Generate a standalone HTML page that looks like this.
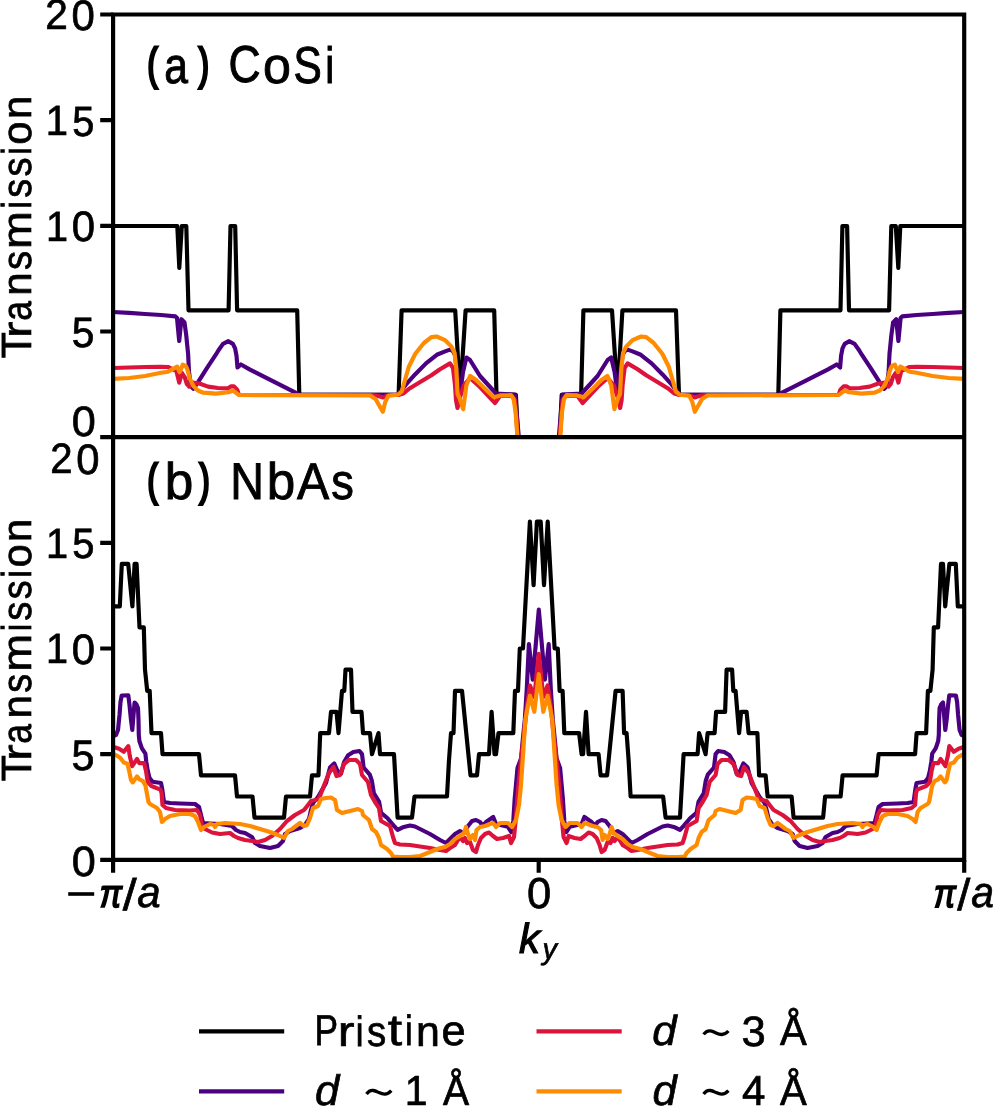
<!DOCTYPE html>
<html><head><meta charset="utf-8"><title>Transmission vs ky</title>
<style>html,body{margin:0;padding:0;background:#fff;width:1000px;height:1116px;overflow:hidden}svg{display:block;font-family:"Liberation Sans",sans-serif;will-change:transform}</style>
</head><body>
<svg width="1000" height="1116" viewBox="0 0 1000 1116">
<defs>
<clipPath id="ct"><rect x="113.1" y="14.5" width="851.1" height="422.6"/></clipPath>
<clipPath id="cb"><rect x="113.1" y="437.1" width="851.1" height="422.8"/></clipPath>
</defs>
<rect width="1000" height="1116" fill="#fff"/>
<g fill="none" stroke-width="4.17" stroke-linejoin="round" stroke-linecap="butt">
<path d="M113.1,226.0 L177.3,226.0 L179.3,267.8 L181.8,226.0 L186.3,226.0 L188.5,310.3 L228.6,310.3 L230.5,226.0 L235.2,226.0 L237.1,310.3 L297.2,310.3 L299.3,394.8 L398.6,394.8 L401.6,310.3 L455.2,310.3 L460.1,394.8 L465.6,310.3 L494.2,310.3 L496.5,394.8 L515.9,394.8 L517.9,437.1 L538.8,437.1 L559.7,437.1 L561.7,394.8 L581.1,394.8 L583.4,310.3 L612.0,310.3 L617.5,394.8 L622.4,310.3 L676.0,310.3 L679.0,394.8 L778.3,394.8 L780.4,310.3 L840.5,310.3 L842.4,226.0 L847.1,226.0 L849.0,310.3 L889.1,310.3 L891.3,226.0 L895.8,226.0 L898.3,267.8 L900.3,226.0 L964.5,226.0" stroke="#000000" clip-path="url(#ct)"/>
<path d="M113.1,312.0 L129.0,312.8 L145.0,314.0 L161.0,315.0 L175.4,316.4 L177.0,318.0 L179.2,341.0 L181.4,319.2 L184.5,322.5 L186.3,335.8 L187.2,345.0 L188.1,353.8 L189.0,371.7 L190.8,386.0 L193.4,388.7 L197.9,382.4 L206.9,368.1 L215.8,354.7 L218.5,350.2 L223.0,343.9 L228.4,341.2 L232.9,343.9 L235.1,348.4 L236.5,355.6 L237.5,367.5 L240.9,364.5 L250.0,369.6 L296.0,392.8 L299.0,394.8 L398.0,394.8 L405.6,384.9 L415.3,374.2 L426.0,363.4 L436.8,354.8 L445.1,351.4 L450.0,349.6 L453.0,351.0 L455.0,355.0 L457.5,375.0 L460.0,395.0 L463.0,372.0 L466.4,357.5 L470.0,360.0 L480.0,376.0 L496.0,393.5 L515.0,394.5 L518.8,437.1 L538.8,437.1 L558.8,437.1 L562.6,394.5 L581.6,393.5 L597.6,376.0 L607.6,360.0 L611.2,357.5 L614.6,372.0 L617.6,395.0 L620.1,375.0 L622.6,355.0 L624.6,351.0 L627.6,349.6 L632.5,351.4 L640.8,354.8 L651.6,363.4 L662.3,374.2 L672.0,384.9 L679.6,394.8 L778.6,394.8 L781.6,392.8 L827.6,369.6 L836.7,364.5 L840.1,367.5 L841.1,355.6 L842.5,348.4 L844.7,343.9 L849.2,341.2 L854.6,343.9 L859.1,350.2 L861.8,354.7 L870.7,368.1 L879.7,382.4 L884.2,388.7 L886.8,386.0 L888.6,371.7 L889.5,353.8 L890.4,345.0 L891.3,335.8 L893.1,322.5 L896.2,319.2 L898.4,341.0 L900.6,318.0 L902.2,316.4 L916.6,315.0 L932.6,314.0 L948.6,312.8 L964.5,312.0" stroke="#4b0082" clip-path="url(#ct)"/>
<path d="M113.1,368.0 L145.0,367.0 L161.0,366.8 L168.0,367.0 L174.0,369.8 L176.4,371.0 L179.2,382.6 L182.0,373.0 L184.8,377.4 L186.8,383.8 L189.2,386.6 L192.8,382.6 L200.0,383.8 L208.0,386.6 L218.0,388.0 L227.6,388.4 L230.8,386.4 L234.0,386.4 L237.2,389.6 L238.8,394.4 L240.5,395.0 L372.0,395.0 L377.0,395.8 L380.0,396.5 L383.0,397.5 L386.0,396.0 L390.0,395.0 L398.0,395.0 L403.4,393.5 L409.9,388.2 L420.6,381.7 L431.4,375.3 L440.0,369.3 L450.0,363.4 L453.0,368.0 L455.0,385.0 L456.0,400.0 L457.5,408.0 L460.0,397.0 L464.0,385.0 L470.0,378.0 L480.0,387.0 L495.0,403.0 L500.0,396.0 L512.0,396.0 L515.0,400.0 L517.8,437.1 L538.8,437.1 L559.8,437.1 L562.6,400.0 L565.6,396.0 L577.6,396.0 L582.6,403.0 L597.6,387.0 L607.6,378.0 L613.6,385.0 L617.6,397.0 L620.1,408.0 L621.6,400.0 L622.6,385.0 L624.6,368.0 L627.6,363.4 L637.6,369.3 L646.2,375.3 L657.0,381.7 L667.7,388.2 L674.2,393.5 L679.6,395.0 L687.6,395.0 L691.6,396.0 L694.6,397.5 L697.6,396.5 L700.6,395.8 L705.6,395.0 L837.1,395.0 L838.8,394.4 L840.4,389.6 L843.6,386.4 L846.8,386.4 L850.0,388.4 L859.6,388.0 L869.6,386.6 L877.6,383.8 L884.8,382.6 L888.4,386.6 L890.8,383.8 L892.8,377.4 L895.6,373.0 L898.4,382.6 L901.2,371.0 L903.6,369.8 L909.6,367.0 L916.6,366.8 L932.6,367.0 L964.5,368.0" stroke="#dc143c" clip-path="url(#ct)"/>
<path d="M113.1,378.8 L129.0,378.0 L145.0,376.0 L161.0,372.8 L168.0,371.8 L172.0,369.4 L177.2,366.6 L179.6,372.2 L182.8,364.6 L185.6,365.8 L187.2,369.0 L189.9,378.9 L193.4,386.0 L197.9,390.5 L203.3,392.7 L215.8,393.6 L228.4,392.3 L232.9,390.5 L236.5,393.2 L239.1,395.0 L370.0,395.5 L375.5,398.9 L379.8,406.5 L382.8,411.8 L385.2,402.2 L388.4,395.7 L398.0,394.6 L401.8,391.4 L404.5,381.7 L408.8,366.7 L415.3,353.8 L423.9,343.0 L431.4,337.1 L436.5,336.5 L445.1,340.2 L451.3,346.4 L454.5,352.7 L456.3,369.0 L457.6,394.1 L459.5,398.0 L463.2,409.2 L466.4,385.3 L470.2,375.9 L476.4,380.3 L484.0,387.8 L494.0,397.2 L500.3,395.4 L511.0,395.2 L513.6,399.2 L515.6,412.0 L517.4,437.1 L538.8,437.1 L560.2,437.1 L562.0,412.0 L564.0,399.2 L566.6,395.2 L577.3,395.4 L583.6,397.2 L593.6,387.8 L601.2,380.3 L607.4,375.9 L611.2,385.3 L614.4,409.2 L618.1,398.0 L620.0,394.1 L621.3,369.0 L623.1,352.7 L626.3,346.4 L632.5,340.2 L641.1,336.5 L646.2,337.1 L653.7,343.0 L662.3,353.8 L668.8,366.7 L673.1,381.7 L675.8,391.4 L679.6,394.6 L689.2,395.7 L692.4,402.2 L694.8,411.8 L697.8,406.5 L702.1,398.9 L707.6,395.5 L838.5,395.0 L841.1,393.2 L844.7,390.5 L849.2,392.3 L861.8,393.6 L874.3,392.7 L879.7,390.5 L884.2,386.0 L887.7,378.9 L890.4,369.0 L892.0,365.8 L894.8,364.6 L898.0,372.2 L900.4,366.6 L905.6,369.4 L909.6,371.8 L916.6,372.8 L932.6,376.0 L948.6,378.0 L964.5,378.8" stroke="#ff8c00" clip-path="url(#ct)"/>
<path d="M113.1,606.3 L119.8,606.3 L121.8,563.9 L128.2,563.9 L132.4,606.3 L134.6,563.9 L136.6,563.9 L139.5,627.4 L143.8,627.4 L145.0,669.6 L147.2,690.8 L149.7,690.8 L151.5,733.1 L161.0,733.1 L162.5,754.2 L199.0,754.2 L201.0,775.3 L235.0,775.3 L237.0,796.5 L252.5,796.5 L254.5,817.6 L284.0,817.6 L286.0,796.5 L310.0,796.5 L312.0,775.3 L318.5,775.3 L320.2,733.1 L329.0,733.1 L331.0,711.9 L336.5,711.9 L338.5,733.1 L342.0,690.8 L344.3,690.8 L345.5,669.6 L351.0,669.6 L352.5,711.9 L361.5,711.9 L363.0,733.1 L370.0,733.1 L372.0,754.2 L378.5,733.1 L380.0,754.2 L394.0,754.2 L397.6,817.6 L412.0,817.6 L414.5,796.5 L447.0,796.5 L449.0,760.0 L451.0,733.1 L453.5,733.1 L455.0,690.8 L462.0,690.8 L470.5,775.3 L477.0,775.3 L479.0,754.2 L489.0,754.2 L491.6,711.9 L494.5,754.2 L496.0,754.2 L498.5,733.1 L513.3,733.1 L515.0,690.8 L518.0,690.8 L519.8,648.5 L523.0,648.5 L529.9,521.7 L533.6,585.1 L536.9,521.7 L538.8,521.7 L540.7,521.7 L544.0,585.1 L547.7,521.7 L554.6,648.5 L557.8,648.5 L559.6,690.8 L562.6,690.8 L564.3,733.1 L579.1,733.1 L581.6,754.2 L583.1,754.2 L586.0,711.9 L588.6,754.2 L598.6,754.2 L600.6,775.3 L607.1,775.3 L615.6,690.8 L622.6,690.8 L624.1,733.1 L626.6,733.1 L628.6,760.0 L630.6,796.5 L663.1,796.5 L665.6,817.6 L680.0,817.6 L683.6,754.2 L697.6,754.2 L699.1,733.1 L705.6,754.2 L707.6,733.1 L714.6,733.1 L716.1,711.9 L725.1,711.9 L726.6,669.6 L732.1,669.6 L733.3,690.8 L735.6,690.8 L739.1,733.1 L741.1,711.9 L746.6,711.9 L748.6,733.1 L757.4,733.1 L759.1,775.3 L765.6,775.3 L767.6,796.5 L791.6,796.5 L793.6,817.6 L823.1,817.6 L825.1,796.5 L840.6,796.5 L842.6,775.3 L876.6,775.3 L878.6,754.2 L915.1,754.2 L916.6,733.1 L926.1,733.1 L927.9,690.8 L930.4,690.8 L932.6,669.6 L933.8,627.4 L938.1,627.4 L941.0,563.9 L943.0,563.9 L945.2,606.3 L949.4,563.9 L955.8,563.9 L957.8,606.3 L964.5,606.3" stroke="#000000" clip-path="url(#cb)"/>
<path d="M113.1,736.5 L116.0,735.0 L118.0,730.0 L119.5,715.0 L120.5,702.0 L121.7,695.5 L128.3,695.3 L129.5,705.0 L131.0,720.0 L132.3,730.0 L133.5,715.0 L134.6,702.5 L136.5,704.5 L138.0,708.0 L138.5,720.0 L138.8,735.0 L139.4,741.0 L141.8,748.2 L145.4,753.6 L146.3,762.0 L147.8,771.0 L149.6,778.2 L152.6,781.8 L161.0,783.0 L162.2,789.0 L164.0,802.0 L170.0,803.0 L180.0,803.5 L195.0,804.0 L199.0,807.0 L201.0,815.0 L203.0,823.0 L210.0,823.5 L220.0,824.0 L232.0,826.0 L236.0,830.0 L240.0,832.0 L245.0,833.0 L252.0,837.0 L255.0,843.0 L260.0,846.0 L270.0,848.0 L278.0,846.0 L283.0,841.0 L285.0,834.0 L290.0,831.0 L300.0,828.0 L305.0,825.0 L309.0,819.0 L311.0,810.0 L313.0,803.0 L318.0,797.0 L322.0,790.0 L326.0,783.0 L330.0,767.5 L334.2,763.4 L337.3,770.6 L341.0,773.7 L344.0,762.4 L348.1,755.2 L353.3,752.0 L359.5,751.0 L362.0,754.1 L363.6,767.5 L369.8,774.7 L371.9,781.0 L373.9,793.3 L379.0,801.5 L381.1,812.9 L387.3,818.0 L393.5,825.3 L397.6,829.9 L402.8,827.3 L410.0,825.5 L415.0,826.5 L420.0,829.0 L430.0,834.0 L440.0,840.0 L446.0,843.0 L450.0,839.0 L455.0,834.0 L460.0,831.0 L464.0,833.0 L468.0,826.0 L472.0,821.0 L476.0,820.0 L480.0,822.0 L483.0,826.0 L486.0,822.0 L493.2,817.0 L496.0,824.0 L507.8,826.7 L511.3,832.2 L513.3,821.0 L514.7,799.0 L517.5,768.0 L521.0,758.6 L523.0,737.8 L524.8,720.0 L526.8,689.0 L528.9,644.1 L532.7,679.6 L538.8,609.7 L544.9,679.6 L548.7,644.1 L550.8,689.0 L552.8,720.0 L554.6,737.8 L556.6,758.6 L560.1,768.0 L562.9,799.0 L564.3,821.0 L566.3,832.2 L569.8,826.7 L581.6,824.0 L584.4,817.0 L591.6,822.0 L594.6,826.0 L597.6,822.0 L601.6,820.0 L605.6,821.0 L609.6,826.0 L613.6,833.0 L617.6,831.0 L622.6,834.0 L627.6,839.0 L631.6,843.0 L637.6,840.0 L647.6,834.0 L657.6,829.0 L662.6,826.5 L667.6,825.5 L674.8,827.3 L680.0,829.9 L684.1,825.3 L690.3,818.0 L696.5,812.9 L698.6,801.5 L703.7,793.3 L705.7,781.0 L707.8,774.7 L714.0,767.5 L715.6,754.1 L718.1,751.0 L724.3,752.0 L729.5,755.2 L733.6,762.4 L736.6,773.7 L740.3,770.6 L743.4,763.4 L747.6,767.5 L751.6,783.0 L755.6,790.0 L759.6,797.0 L764.6,803.0 L766.6,810.0 L768.6,819.0 L772.6,825.0 L777.6,828.0 L787.6,831.0 L792.6,834.0 L794.6,841.0 L799.6,846.0 L807.6,848.0 L817.6,846.0 L822.6,843.0 L825.6,837.0 L832.6,833.0 L837.6,832.0 L841.6,830.0 L845.6,826.0 L857.6,824.0 L867.6,823.5 L874.6,823.0 L876.6,815.0 L878.6,807.0 L882.6,804.0 L897.6,803.5 L907.6,803.0 L913.6,802.0 L915.4,789.0 L916.6,783.0 L925.0,781.8 L928.0,778.2 L929.8,771.0 L931.3,762.0 L932.2,753.6 L935.8,748.2 L938.2,741.0 L938.8,735.0 L939.1,720.0 L939.6,708.0 L941.1,704.5 L943.0,702.5 L944.1,715.0 L945.3,730.0 L946.6,720.0 L948.1,705.0 L949.3,695.3 L955.9,695.5 L957.1,702.0 L958.1,715.0 L959.6,730.0 L961.6,735.0 L964.5,736.5" stroke="#4b0082" clip-path="url(#cb)"/>
<path d="M113.1,747.3 L115.4,747.6 L119.0,748.8 L123.8,751.8 L128.3,746.1 L129.8,756.0 L132.2,766.2 L137.0,759.0 L139.4,763.2 L144.2,763.2 L146.0,771.0 L147.8,782.4 L151.4,786.0 L160.4,789.6 L161.6,793.0 L162.5,805.0 L166.0,808.0 L175.0,810.0 L190.0,810.5 L197.0,810.0 L200.0,815.0 L202.0,826.0 L205.0,829.0 L212.0,832.5 L220.0,834.0 L230.0,833.0 L234.0,836.0 L238.0,838.0 L245.0,840.0 L252.0,841.0 L258.0,842.0 L265.0,840.0 L272.0,836.0 L280.0,829.0 L287.0,821.0 L295.0,815.0 L304.0,810.0 L308.0,805.0 L311.0,801.0 L318.0,799.5 L320.0,796.0 L325.0,783.0 L329.0,773.0 L333.5,767.0 L336.5,776.0 L340.0,775.0 L344.0,764.0 L349.0,760.0 L356.0,760.0 L360.0,764.0 L362.0,775.0 L368.0,782.0 L371.0,795.0 L375.0,802.0 L379.0,808.0 L381.0,821.0 L390.0,826.0 L393.0,837.0 L395.0,843.0 L400.0,844.5 L410.0,845.0 L420.0,846.5 L430.0,848.0 L440.0,850.0 L446.0,851.0 L450.0,848.0 L455.0,845.0 L458.0,840.0 L460.0,837.0 L463.0,841.0 L465.0,838.0 L467.0,843.0 L470.0,842.0 L473.0,850.0 L476.0,852.0 L478.0,845.0 L481.0,838.0 L485.0,834.0 L489.0,832.5 L493.0,836.0 L497.0,839.0 L503.0,838.0 L509.0,836.0 L511.0,843.0 L514.0,837.0 L515.5,822.0 L518.0,790.0 L521.0,760.0 L524.0,735.0 L527.0,705.0 L530.0,685.5 L534.3,697.0 L538.8,653.8 L543.3,697.0 L547.6,685.5 L550.6,705.0 L553.6,735.0 L556.6,760.0 L559.6,790.0 L562.1,822.0 L563.6,837.0 L566.6,843.0 L568.6,836.0 L574.6,838.0 L580.6,839.0 L584.6,836.0 L588.6,832.5 L592.6,834.0 L596.6,838.0 L599.6,845.0 L601.6,852.0 L604.6,850.0 L607.6,842.0 L610.6,843.0 L612.6,838.0 L614.6,841.0 L617.6,837.0 L619.6,840.0 L622.6,845.0 L627.6,848.0 L631.6,851.0 L637.6,850.0 L647.6,848.0 L657.6,846.5 L667.6,845.0 L677.6,844.5 L682.6,843.0 L684.6,837.0 L687.6,826.0 L696.6,821.0 L698.6,808.0 L702.6,802.0 L706.6,795.0 L709.6,782.0 L715.6,775.0 L717.6,764.0 L721.6,760.0 L728.6,760.0 L733.6,764.0 L737.6,775.0 L741.1,776.0 L744.1,767.0 L748.6,773.0 L752.6,783.0 L757.6,796.0 L759.6,799.5 L766.6,801.0 L769.6,805.0 L773.6,810.0 L782.6,815.0 L790.6,821.0 L797.6,829.0 L805.6,836.0 L812.6,840.0 L819.6,842.0 L825.6,841.0 L832.6,840.0 L839.6,838.0 L843.6,836.0 L847.6,833.0 L857.6,834.0 L865.6,832.5 L872.6,829.0 L875.6,826.0 L877.6,815.0 L880.6,810.0 L887.6,810.5 L902.6,810.0 L911.6,808.0 L915.1,805.0 L916.0,793.0 L917.2,789.6 L926.2,786.0 L929.8,782.4 L931.6,771.0 L933.4,763.2 L938.2,763.2 L940.6,759.0 L945.4,766.2 L947.8,756.0 L949.3,746.1 L953.8,751.8 L958.6,748.8 L962.2,747.6 L964.5,747.3" stroke="#dc143c" clip-path="url(#cb)"/>
<path d="M113.1,754.5 L115.4,754.8 L120.2,757.8 L123.8,762.6 L127.4,763.8 L129.2,771.0 L131.0,780.0 L132.8,782.4 L137.0,776.4 L139.4,779.4 L143.0,781.2 L145.4,785.4 L147.2,795.0 L148.5,802.0 L150.0,804.0 L157.0,808.0 L160.0,812.0 L162.0,822.0 L165.0,819.0 L170.0,816.0 L180.0,814.0 L190.0,814.0 L195.0,816.0 L198.0,822.0 L201.0,830.0 L204.0,827.0 L210.0,824.0 L214.0,825.0 L215.0,827.0 L217.0,824.0 L225.0,823.0 L240.0,824.0 L250.0,826.0 L260.0,829.0 L270.0,832.0 L278.0,835.0 L284.0,838.0 L288.0,831.0 L292.0,829.0 L296.0,826.0 L300.0,823.0 L304.0,826.0 L307.0,825.0 L310.0,818.0 L313.0,808.0 L318.0,806.0 L321.0,799.0 L326.0,798.0 L331.0,797.5 L335.0,800.0 L337.0,810.0 L342.0,813.0 L350.0,811.0 L358.0,809.0 L362.0,811.0 L363.0,815.0 L369.0,820.0 L372.0,829.0 L376.0,832.0 L379.0,838.0 L381.0,845.0 L387.0,849.0 L391.0,853.0 L393.0,856.5 L400.0,857.0 L410.0,857.0 L420.0,856.0 L430.0,852.0 L437.0,849.0 L445.0,847.0 L450.0,844.0 L455.0,839.0 L460.0,836.0 L464.0,833.0 L466.0,827.0 L468.0,834.0 L470.0,839.0 L473.0,835.0 L475.0,840.0 L476.5,830.0 L480.0,827.0 L485.0,826.0 L490.0,824.0 L493.0,823.0 L496.0,827.0 L500.0,823.0 L508.0,823.0 L512.0,827.0 L516.0,820.0 L519.0,805.0 L521.0,785.0 L523.0,755.0 L525.3,720.0 L527.5,708.0 L530.0,695.7 L534.3,711.8 L538.8,674.2 L543.3,711.8 L547.6,695.7 L550.1,708.0 L552.3,720.0 L554.6,755.0 L556.6,785.0 L558.6,805.0 L561.6,820.0 L565.6,827.0 L569.6,823.0 L577.6,823.0 L581.6,827.0 L584.6,823.0 L587.6,824.0 L592.6,826.0 L597.6,827.0 L601.1,830.0 L602.6,840.0 L604.6,835.0 L607.6,839.0 L609.6,834.0 L611.6,827.0 L613.6,833.0 L617.6,836.0 L622.6,839.0 L627.6,844.0 L632.6,847.0 L640.6,849.0 L647.6,852.0 L657.6,856.0 L667.6,857.0 L677.6,857.0 L684.6,856.5 L686.6,853.0 L690.6,849.0 L696.6,845.0 L698.6,838.0 L701.6,832.0 L705.6,829.0 L708.6,820.0 L714.6,815.0 L715.6,811.0 L719.6,809.0 L727.6,811.0 L735.6,813.0 L740.6,810.0 L742.6,800.0 L746.6,797.5 L751.6,798.0 L756.6,799.0 L759.6,806.0 L764.6,808.0 L767.6,818.0 L770.6,825.0 L773.6,826.0 L777.6,823.0 L781.6,826.0 L785.6,829.0 L789.6,831.0 L793.6,838.0 L799.6,835.0 L807.6,832.0 L817.6,829.0 L827.6,826.0 L837.6,824.0 L852.6,823.0 L860.6,824.0 L862.6,827.0 L863.6,825.0 L867.6,824.0 L873.6,827.0 L876.6,830.0 L879.6,822.0 L882.6,816.0 L887.6,814.0 L897.6,814.0 L907.6,816.0 L912.6,819.0 L915.6,822.0 L917.6,812.0 L920.6,808.0 L927.6,804.0 L929.1,802.0 L930.4,795.0 L932.2,785.4 L934.6,781.2 L938.2,779.4 L940.6,776.4 L944.8,782.4 L946.6,780.0 L948.4,771.0 L950.2,763.8 L953.8,762.6 L957.4,757.8 L962.2,754.8 L964.5,754.5" stroke="#ff8c00" clip-path="url(#cb)"/>
<path d="M199.0,1031.4 H284.2" stroke="#000" />
<path d="M199.0,1091.4 H284.2" stroke="#4b0082" />
<path d="M536.5,1031.4 H621.7" stroke="#dc143c" />
<path d="M536.5,1091.4 H621.7" stroke="#ff8c00" />
</g>
<path d="M100.2,437.1 H113.1 M100.2,859.9 H113.1 M100.2,331.5 H113.1 M100.2,754.2 H113.1 M100.2,225.8 H113.1 M100.2,648.5 H113.1 M100.2,120.1 H113.1 M100.2,542.8 H113.1 M100.2,14.5 H113.1 M100.2,437.1 H113.1 M113.1,859.9 V872.8 M538.7,859.9 V872.8 M964.2,859.9 V872.8" stroke="#000" stroke-width="4.17" fill="none" stroke-linecap="butt"/>
<path d="M113.1,14.5 H964.2 V859.9 H113.1 Z M113.1,437.1 H964.2" stroke="#000" stroke-width="4.17" fill="none" stroke-linejoin="miter" stroke-linecap="square"/>
<g font-family="Liberation Sans, sans-serif" fill="#000" text-rendering="geometricPrecision">
<text transform="matrix(0.9792 0 0 1.0195 71.66 347.30)" font-size="41.67" stroke="#000" stroke-width="0.701">5</text>
<text transform="matrix(1.0375 0 0 1.0178 71.64 435.50)" font-size="41.67" stroke="#000" stroke-width="0.681">0</text>
<text transform="matrix(0.9894 0 0 1.0212 71.44 769.75)" font-size="41.67" stroke="#000" stroke-width="0.696">5</text>
<text transform="matrix(1.0375 0 0 1.0178 71.64 875.50)" font-size="41.67" stroke="#000" stroke-width="0.681">0</text>
<text transform="matrix(0.7955 0 0 0.9403 99.70 906.87)" font-size="41.67" font-style="italic" stroke="#000" stroke-width="1.850">π</text>
<text transform="matrix(1.2033 0 0 1.0631 122.67 910.41)" font-size="41.67" stroke="#000" stroke-width="0.619">/</text>
<text transform="matrix(1.0093 0 0 1.0419 137.24 907.12)" font-size="41.67" font-style="italic" stroke="#000" stroke-width="0.683">a</text>
<text transform="matrix(1.0435 0 0 1.0363 526.88 907.78)" font-size="41.67" stroke="#000" stroke-width="0.673">0</text>
<text transform="matrix(0.7828 0 0 0.9507 933.97 906.59)" font-size="41.67" font-style="italic" stroke="#000" stroke-width="1.855">π</text>
<text transform="matrix(1.1310 0 0 1.0649 957.33 910.41)" font-size="41.67" stroke="#000" stroke-width="0.638">/</text>
<text transform="matrix(0.9807 0 0 1.0345 971.29 906.97)" font-size="41.67" font-style="italic" stroke="#000" stroke-width="0.695">a</text>
<text transform="matrix(1.0033 0 0 1.0071 518.91 952.70)" font-size="41.67" font-style="italic" stroke="#000" stroke-width="1.094">k</text>
<text transform="matrix(0.9902 0 0 1.0213 542.41 958.62)" font-size="29.169" font-style="italic" stroke="#000" stroke-width="0.696">y</text>
<text transform="matrix(1.0471 0 0 1.0214 315.07 1105.18)" font-size="41.67" font-style="italic" stroke="#000" stroke-width="0.677">d</text>
<text transform="matrix(0.9848 0 0 1.0074 404.81 1105.07)" font-size="41.67" stroke="#000" stroke-width="0.703">1</text>
<text transform="matrix(0.9374 0 0 1.0070 443.05 1105.00)" font-size="41.67" stroke="#000" stroke-width="0.720">Å</text>
<text transform="matrix(1.0490 0 0 1.0043 652.31 1044.88)" font-size="41.67" font-style="italic" stroke="#000" stroke-width="0.682">d</text>
<text transform="matrix(1.0478 0 0 1.0182 741.40 1045.72)" font-size="41.67" stroke="#000" stroke-width="0.678">3</text>
<text transform="matrix(0.9622 0 0 1.0208 780.02 1045.35)" font-size="41.67" stroke="#000" stroke-width="0.706">Å</text>
<text transform="matrix(1.0453 0 0 1.0188 652.54 1105.36)" font-size="41.67" font-style="italic" stroke="#000" stroke-width="0.678">d</text>
<text transform="matrix(1.0103 0 0 1.0073 741.92 1105.07)" font-size="41.67" stroke="#000" stroke-width="0.694">4</text>
<text transform="matrix(0.9624 0 0 1.0136 780.02 1105.01)" font-size="41.67" stroke="#000" stroke-width="0.709">Å</text>
<text transform="matrix(0.9755 0 0 1.0206 45.17 29.43)" font-size="41.67" stroke="#000" stroke-width="0.702">2</text>
<text transform="matrix(1.0073 0 0 1.0192 71.49 29.91)" font-size="41.67" stroke="#000" stroke-width="0.691">0</text>
<text transform="matrix(0.9600 0 0 1.0140 45.72 135.43)" font-size="41.67" stroke="#000" stroke-width="0.709">1</text>
<text transform="matrix(0.9553 0 0 1.0139 72.14 135.88)" font-size="41.67" stroke="#000" stroke-width="0.711">5</text>
<text transform="matrix(0.9515 0 0 1.0141 46.10 240.86)" font-size="41.67" stroke="#000" stroke-width="0.713">1</text>
<text transform="matrix(1.0054 0 0 1.0196 71.63 241.22)" font-size="41.67" stroke="#000" stroke-width="0.691">0</text>
<text transform="matrix(0.9618 0 0 1.0198 50.14 473.43)" font-size="41.67" stroke="#000" stroke-width="0.707">2</text>
<text transform="matrix(1.0035 0 0 1.0201 76.24 473.93)" font-size="41.67" stroke="#000" stroke-width="0.692">0</text>
<text transform="matrix(0.9528 0 0 1.0140 46.09 557.86)" font-size="41.67" stroke="#000" stroke-width="0.712">1</text>
<text transform="matrix(0.9585 0 0 1.0163 72.19 558.28)" font-size="41.67" stroke="#000" stroke-width="0.709">5</text>
<text transform="matrix(0.9515 0 0 1.0141 46.10 663.25)" font-size="41.67" stroke="#000" stroke-width="0.713">1</text>
<text transform="matrix(1.0054 0 0 1.0196 71.63 663.62)" font-size="41.67" stroke="#000" stroke-width="0.691">0</text>
<text transform="matrix(0 -1.0282 1.0134 0 30.82 358.21)" font-size="41.67" stroke="#000" stroke-width="0.686">T</text>
<text transform="matrix(0 -1.1927 0.9897 0 30.97 338.05)" font-size="41.67" stroke="#000" stroke-width="0.644">r</text>
<text transform="matrix(0 -0.8527 0.9905 0 30.88 320.84)" font-size="41.67" stroke="#000" stroke-width="0.762">a</text>
<text transform="matrix(0 -1.0091 0.9873 0 30.78 295.82)" font-size="41.67" stroke="#000" stroke-width="0.701">n</text>
<text transform="matrix(0 -0.9149 0.9943 0 30.82 270.00)" font-size="41.67" stroke="#000" stroke-width="0.734">s</text>
<text transform="matrix(0 -1.0905 0.9898 0 30.86 248.98)" font-size="41.67" stroke="#000" stroke-width="0.674">m</text>
<text transform="matrix(0 -0.8263 1.0001 0 30.91 208.74)" font-size="41.67" stroke="#000" stroke-width="0.770">i</text>
<text transform="matrix(0 -0.9075 0.9947 0 30.85 197.75)" font-size="41.67" stroke="#000" stroke-width="0.737">s</text>
<text transform="matrix(0 -0.9152 0.9954 0 30.98 176.58)" font-size="41.67" stroke="#000" stroke-width="0.733">s</text>
<text transform="matrix(0 -0.8048 1.0003 0 30.58 154.64)" font-size="41.67" stroke="#000" stroke-width="0.780">i</text>
<text transform="matrix(0 -1.0085 0.9928 0 30.93 144.69)" font-size="41.67" stroke="#000" stroke-width="0.700">o</text>
<text transform="matrix(0 -1.0062 0.9895 0 30.78 119.12)" font-size="41.67" stroke="#000" stroke-width="0.702">n</text>
<text transform="matrix(0 -1.0310 1.0134 0 30.82 781.22)" font-size="41.67" stroke="#000" stroke-width="0.685">T</text>
<text transform="matrix(0 -1.1812 0.9906 0 30.96 760.72)" font-size="41.67" stroke="#000" stroke-width="0.647">r</text>
<text transform="matrix(0 -0.8535 0.9928 0 30.91 743.81)" font-size="41.67" stroke="#000" stroke-width="0.760">a</text>
<text transform="matrix(0 -1.0123 0.9898 0 30.78 718.58)" font-size="41.67" stroke="#000" stroke-width="0.699">n</text>
<text transform="matrix(0 -0.9072 0.9947 0 30.85 692.86)" font-size="41.67" stroke="#000" stroke-width="0.737">s</text>
<text transform="matrix(0 -1.0900 0.9901 0 30.87 671.87)" font-size="41.67" stroke="#000" stroke-width="0.674">m</text>
<text transform="matrix(0 -0.8216 1.0014 0 30.91 631.32)" font-size="41.67" stroke="#000" stroke-width="0.772">i</text>
<text transform="matrix(0 -0.9167 0.9950 0 30.96 620.64)" font-size="41.67" stroke="#000" stroke-width="0.733">s</text>
<text transform="matrix(0 -0.9070 0.9947 0 31.03 599.24)" font-size="41.67" stroke="#000" stroke-width="0.737">s</text>
<text transform="matrix(0 -0.8518 1.0009 0 30.57 577.71)" font-size="41.67" stroke="#000" stroke-width="0.758">i</text>
<text transform="matrix(0 -1.0060 0.9927 0 30.99 567.54)" font-size="41.67" stroke="#000" stroke-width="0.700">o</text>
<text transform="matrix(0 -1.0063 0.9881 0 30.79 541.88)" font-size="41.67" stroke="#000" stroke-width="0.702">n</text>
<text transform="matrix(0.5618 0 0 0.8754 147.75 79.04)" font-size="50" stroke="#000" stroke-width="4.278">(</text>
<text transform="matrix(0.8530 0 0 1.0106 164.34 83.26)" font-size="50" stroke="#000" stroke-width="0.969">a</text>
<text transform="matrix(0.5622 0 0 0.8754 199.27 79.04)" font-size="50" stroke="#000" stroke-width="4.277">)</text>
<text transform="matrix(0.8900 0 0 1.0397 228.59 82.42)" font-size="50" stroke="#000" stroke-width="0.936">C</text>
<text transform="matrix(1.0046 0 0 1.0138 262.98 83.14)" font-size="50" stroke="#000" stroke-width="0.892">o</text>
<text transform="matrix(0.8476 0 0 1.0388 293.44 83.21)" font-size="50" stroke="#000" stroke-width="0.959">S</text>
<text transform="matrix(0.8084 0 0 1.0221 325.24 82.60)" font-size="50" stroke="#000" stroke-width="0.990">i</text>
<text transform="matrix(0.5599 0 0 0.8754 147.74 495.04)" font-size="50" stroke="#000" stroke-width="4.285">(</text>
<text transform="matrix(1.0254 0 0 1.0287 164.64 499.00)" font-size="50" stroke="#000" stroke-width="0.876">b</text>
<text transform="matrix(0.5617 0 0 0.8754 200.11 495.04)" font-size="50" stroke="#000" stroke-width="4.279">)</text>
<text transform="matrix(0.9324 0 0 1.0308 230.17 498.80)" font-size="50" stroke="#000" stroke-width="0.918">N</text>
<text transform="matrix(1.0241 0 0 1.0303 266.80 498.93)" font-size="50" stroke="#000" stroke-width="0.876">b</text>
<text transform="matrix(0.9658 0 0 1.0290 296.90 498.80)" font-size="50" stroke="#000" stroke-width="0.903">A</text>
<text transform="matrix(0.9025 0 0 1.0118 331.23 498.82)" font-size="50" stroke="#000" stroke-width="0.942">s</text>
<text transform="matrix(0.8470 0 0 1.0334 314.58 1045.19)" font-size="41.67" stroke="#000" stroke-width="0.748">P</text>
<text transform="matrix(1.2092 0 0 1.0255 337.81 1045.89)" font-size="41.67" stroke="#000" stroke-width="0.629">r</text>
<text transform="matrix(0.8324 0 0 1.0167 355.85 1046.05)" font-size="41.67" stroke="#000" stroke-width="0.761">i</text>
<text transform="matrix(0.9212 0 0 1.0228 366.94 1046.24)" font-size="41.67" stroke="#000" stroke-width="0.721">s</text>
<text transform="matrix(1.2412 0 0 1.0485 387.78 1045.11)" font-size="41.67" stroke="#000" stroke-width="0.614">t</text>
<text transform="matrix(0.8289 0 0 1.0158 405.08 1045.13)" font-size="41.67" stroke="#000" stroke-width="0.763">i</text>
<text transform="matrix(1.0280 0 0 1.0257 415.88 1045.89)" font-size="41.67" stroke="#000" stroke-width="0.682">n</text>
<text transform="matrix(1.0434 0 0 1.0130 441.43 1045.47)" font-size="41.67" stroke="#000" stroke-width="0.681">e</text>
<rect x="68.2" y="892.2" width="26.0" height="3.6"/>
</g>
<path d="M703.6,1034.4 C705.5,1031.8 708,1030.6 710.3,1030.9 C712.8,1031.2 714.5,1032.3 716,1033 C717.8,1033.8 719.8,1034.6 721.8,1034.5 C724.3,1034.4 726.6,1033 728.4,1031.0" transform="translate(0,0)" stroke="#000" stroke-width="3.3" fill="none" stroke-linecap="butt"/><path d="M703.6,1034.4 C705.5,1031.8 708,1030.6 710.3,1030.9 C712.8,1031.2 714.5,1032.3 716,1033 C717.8,1033.8 719.8,1034.6 721.8,1034.5 C724.3,1034.4 726.6,1033 728.4,1031.0" transform="translate(0,59.6)" stroke="#000" stroke-width="3.3" fill="none" stroke-linecap="butt"/><path d="M703.6,1034.4 C705.5,1031.8 708,1030.6 710.3,1030.9 C712.8,1031.2 714.5,1032.3 716,1033 C717.8,1033.8 719.8,1034.6 721.8,1034.5 C724.3,1034.4 726.6,1033 728.4,1031.0" transform="translate(-337.1,59.6)" stroke="#000" stroke-width="3.3" fill="none" stroke-linecap="butt"/>
</svg>
</body></html>
